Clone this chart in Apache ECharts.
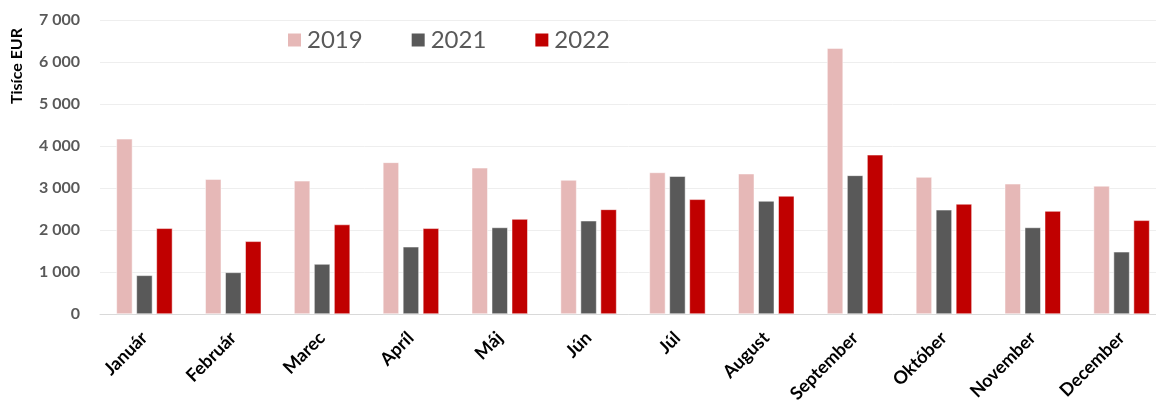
<!DOCTYPE html>
<html>
<head>
<meta charset="utf-8">
<script src="https://cdn.jsdelivr.net/npm/echarts@6/dist/echarts.min.js"></script>
<style>
  html, body { margin: 0; padding: 0; background: #fff; }
  #chart { width: 1156px; height: 401px; }
</style>
</head>
<body>
<div id="chart"></div>
<script>
// Monthly values, thousands of EUR
const months = ['Január', 'Február', 'Marec', 'Apríl', 'Máj', 'Jún', 'Júl', 'August', 'September', 'Október', 'November', 'December'];
const values2019 = [4170, 3210, 3170, 3610, 3480, 3190, 3370, 3340, 6330, 3260, 3100, 3050];
const values2021 = [920, 990, 1190, 1600, 2060, 2220, 3280, 2690, 3300, 2480, 2060, 1480];
const values2022 = [2040, 1730, 2130, 2040, 2260, 2490, 2730, 2810, 3790, 2620, 2450, 2230];
const seriesNames = ['2019', '2021', '2022'];
const colors = ['#E6B8B7', '#595959', '#C00000'];

const FONT = 'Lato, "Open Sans", sans-serif';

// 7000 -> "7 000"
function spaced(v) {
    return String(v).replace(/\B(?=(\d{3})+(?!\d))/g, ' ');
}

const chart = echarts.init(document.getElementById('chart'), null, { renderer: 'canvas' });

const data = [values2019, values2021, values2022];

chart.setOption({
    animation: false,
    color: colors,
    // the source picture is cut off on the right and bottom, so the plot runs past the edge
    grid: { left: 100, right: -10, top: 20, bottom: 87, outerBoundsMode: 'none', containLabel: false },
    legend: {
        data: seriesNames,
        left: 281,
        top: 23,
        itemWidth: 15,
        itemHeight: 15,
        itemGap: 47,
        icon: 'rect',
        textStyle: { fontFamily: FONT, fontSize: 24, color: '#595959' }
    },
    graphic: [{
        type: 'text',
        left: 9,
        top: 28,
        rotation: Math.PI / 2,
        style: {
            text: 'Tisíce EUR',
            font: 'bold 16px ' + FONT,
            fill: '#000'
        }
    }],
    xAxis: {
        type: 'category',
        data: months,
        axisTick: { show: false },
        axisLine: { lineStyle: { color: '#D9D9D9', width: 1 } },
        axisLabel: {
            rotate: 45,
            margin: 21,
            interval: 0,
            fontFamily: FONT,
            fontWeight: 'bold',
            fontSize: 18,
            color: '#000'
        }
    },
    yAxis: {
        type: 'value',
        min: 0,
        max: 7000,
        interval: 1000,
        axisLine: { show: false },
        axisTick: { show: false },
        splitLine: { lineStyle: { color: '#EEEEEE', width: 1 } },
        axisLabel: {
            margin: 20,
            fontFamily: FONT,
            fontWeight: 'bold',
            fontSize: 16,
            color: '#595959',
            formatter: spaced
        }
    },
    series: seriesNames.map((name, i) => ({
        name: name,
        type: 'bar',
        data: data[i],
        barWidth: 16,
        barGap: '25%',
        itemStyle: { borderColor: '#fff', borderWidth: 0.5 }
    }))
});
</script>
</body>
</html>
